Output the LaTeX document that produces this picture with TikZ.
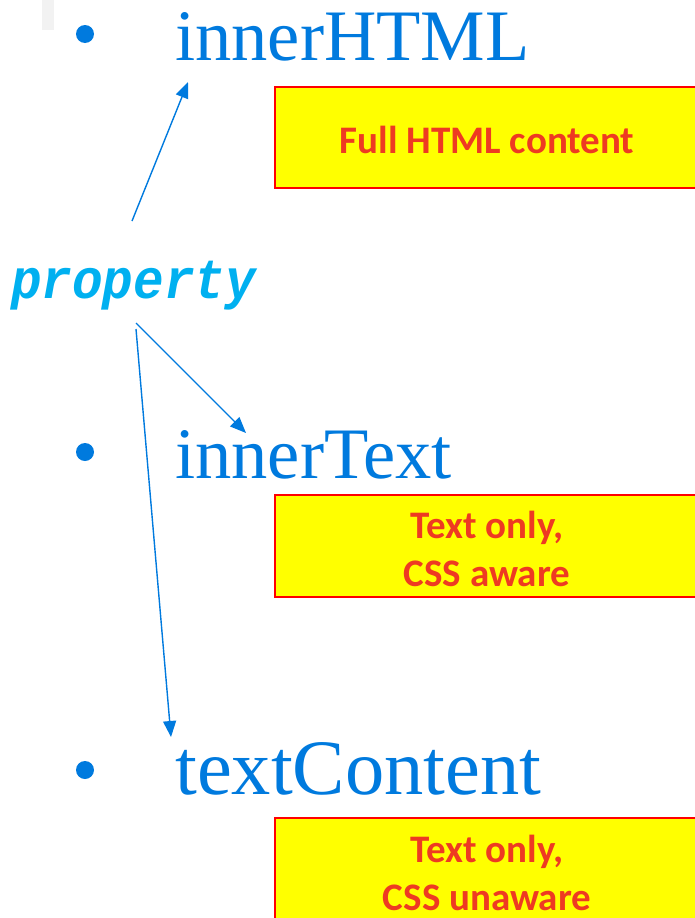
\documentclass[tikz,border=0pt]{standalone}
\usepackage{fontspec}
\setmainfont{Liberation Serif}
\newfontfamily\boxfont{Carlito}
\newfontfamily\codefont{Liberation Mono}
\usetikzlibrary{arrows.meta}
\definecolor{itemblue}{RGB}{0,122,222}
\definecolor{propcyan}{RGB}{0,176,240}
\definecolor{notered}{RGB}{238,58,34}
\definecolor{noteyellow}{RGB}{255,255,0}
\definecolor{noteedge}{RGB}{255,0,0}
\tikzset{
  item/.style={anchor=base west, inner sep=0pt, text=itemblue,
    font=\fontsize{72.5}{88}\selectfont},
  dot/.style={circle, fill=itemblue, minimum size=18pt, inner sep=0pt},
  note/.style={fill=noteyellow, draw=noteedge, line width=2pt},
  notetext/.style={text=notered, align=center, inner sep=0pt,
    font=\boxfont\bfseries\fontsize{39}{48}\selectfont},
  link/.style={draw=itemblue, line width=1.4pt,
    -{Triangle[length=16pt,width=13pt]}}
}
\begin{document}
\begin{tikzpicture}[x=1pt,y=-1pt]
\useasboundingbox (0,0) rectangle (695,918);
% pale tab in the corner
\fill[black!5] (42,0) rectangle (54,30);

% bullets and property names
\node[dot] (b1) at (85,34) {};
\node[item] (html) at (175,60) {innerHTML};
\node[dot] (b2) at (85,452) {};
\node[item] (itext) at (175,478) {innerText};
\node[dot] (b3) at (85,770) {};
\node[item, font=\fontsize{78.5}{90}\selectfont] (tcont) at (175,794) {textContent};

% notes
\draw[note] (275,87) rectangle (697,188);
\node[notetext] (n1) at (487,140) {Full HTML content};
\draw[note] (275,495) rectangle (697,597);
\node[notetext] (n2) at (487,549) {Text only,\\CSS aware};
\draw[note] (275,818) rectangle (697,922);
\node[notetext] (n3) at (487,873) {Text only,\\CSS unaware};

% the property label
\node[anchor=base west, inner sep=0pt, text=propcyan, yscale=1.1,
  font=\codefont\bfseries\itshape\fontsize{51}{60}\selectfont] (prop) at (11,298) {property};

% connectors
\coordinate (s1) at (132,221);
\coordinate (t1) at (188,82);
\coordinate (s2) at (136,323);
\coordinate (t2) at (246,433);
\coordinate (s3) at (136,329);
\coordinate (t3) at (171,737);
\draw[link] (s1) -- (t1);
\draw[link] (s2) -- (t2);
\draw[link] (s3) -- (t3);
\end{tikzpicture}
\end{document}
